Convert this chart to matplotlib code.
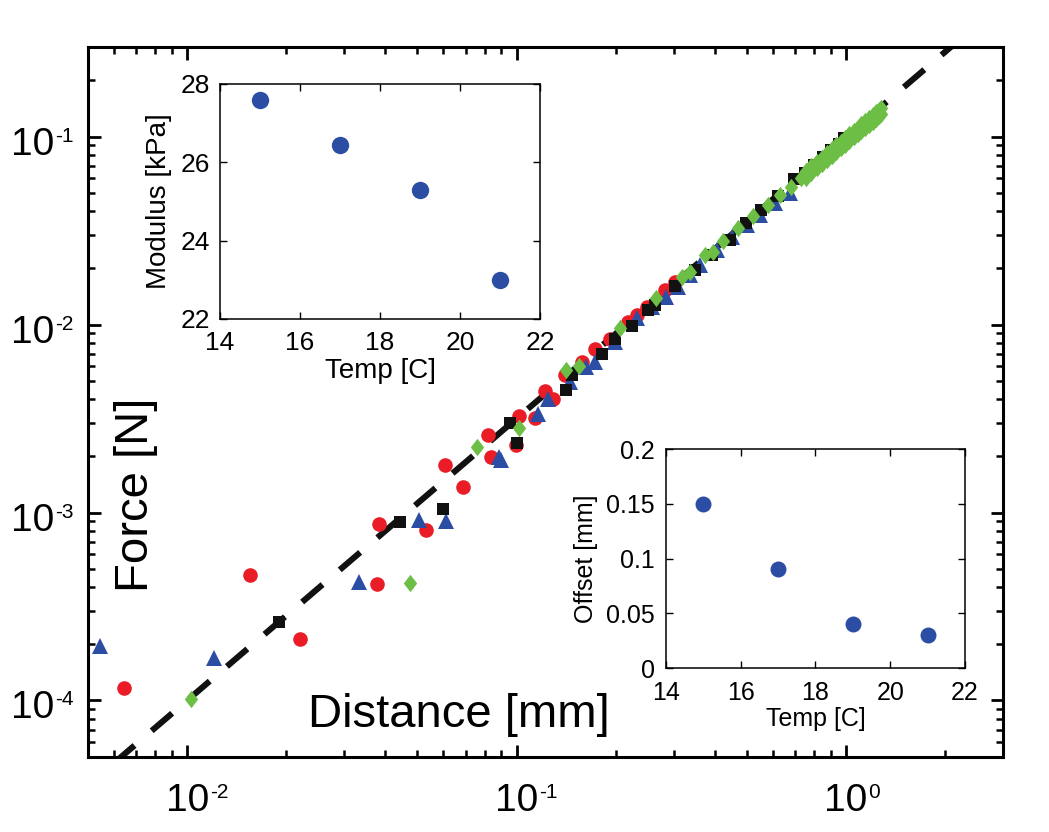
import numpy as np
import matplotlib
matplotlib.use('Agg')
import matplotlib.pyplot as plt
from matplotlib.ticker import LogLocator, NullFormatter

plt.rcParams['font.family'] = ['Liberation Sans', 'DejaVu Sans']

# Dados (Distance [mm] x Force [N])
red_d = [0.00644, 0.0155, 0.0220, 0.0376, 0.0382, 0.0531, 0.0605, 0.0686, 0.0818, 0.0838,
         0.0995, 0.1018, 0.114, 0.1216, 0.129, 0.1406, 0.158, 0.173, 0.192, 0.218,
         0.232, 0.249, 0.282, 0.302]
red_F = [1.16e-4, 4.65e-4, 2.13e-4, 4.15e-4, 8.73e-4, 8.06e-4, 1.80e-3, 1.37e-3, 2.57e-3, 1.98e-3,
         2.30e-3, 3.28e-3, 3.19e-3, 4.43e-3, 4.03e-3, 5.37e-3, 6.33e-3, 7.45e-3, 8.43e-3, 0.01035,
         0.0112, 0.01244, 0.0153, 0.0169]

blue_d = [0.00543, 0.01207, 0.0332, 0.0504, 0.0612, 0.0883, 0.0895, 0.116, 0.1245, 0.145,
          0.163, 0.173, 0.199, 0.232, 0.258, 0.285, 0.310, 0.336, 0.360, 0.405,
          0.450, 0.500, 0.547, 0.610, 0.675]
blue_F = [1.96e-4, 1.68e-4, 4.28e-4, 9.1e-4, 8.96e-4, 1.97e-3, 1.90e-3, 3.35e-3, 4.03e-3, 4.94e-3,
          5.94e-3, 6.32e-3, 8.1e-3, 0.0108, 0.0124, 0.0141, 0.0159, 0.0184, 0.0208, 0.0250,
          0.0294, 0.0338, 0.0383, 0.0442, 0.0500]

black_d = [0.0190, 0.0442, 0.0600, 0.0957, 0.1002, 0.141, 0.147, 0.182, 0.199, 0.224,
           0.250, 0.263, 0.302, 0.348, 0.391, 0.445, 0.499, 0.554, 0.622, 0.695,
           0.75, 0.80, 0.85, 0.90, 0.95, 0.99]
black_F = [2.6e-4, 8.9e-4, 1.04e-3, 2.98e-3, 2.33e-3, 4.47e-3, 5.37e-3, 7.0e-3, 8.43e-3, 9.8e-3,
           0.0119, 0.0127, 0.0160, 0.0195, 0.0234, 0.0282, 0.0346, 0.0407, 0.0484, 0.0594,
           0.0640, 0.0705, 0.0775, 0.0845, 0.0918, 0.0985]

green_d = [0.0103, 0.0474, 0.076, 0.1015, 0.141, 0.155, 0.206, 0.266, 0.317, 0.336,
           0.373, 0.396, 0.424, 0.471, 0.523, 0.580, 0.630, 0.683, 0.732]
green_F = [1.02e-4, 4.2e-4, 2.22e-3, 2.83e-3, 5.71e-3, 6.0e-3, 9.6e-3, 0.0138, 0.0180, 0.0191,
           0.0234, 0.0244, 0.0277, 0.0326, 0.0379, 0.0434, 0.0491, 0.0543, 0.0600]

# faixa verde contínua no fim da curva (bordas superior e inferior)
green_band_d = [0.755, 0.785, 0.815, 0.845, 0.875, 0.905, 0.935, 0.965, 0.995, 1.025,
                1.055, 1.085, 1.115, 1.145, 1.175, 1.205, 1.235, 1.26, 1.28]
green_band_hi = [0.0655, 0.0695, 0.0734, 0.0774, 0.0814, 0.0856, 0.0899, 0.0940, 0.0984, 0.1028,
                 0.1072, 0.1117, 0.1164, 0.1210, 0.1256, 0.1304, 0.1352, 0.1393, 0.1425]
green_band_lo = [0.0605, 0.0641, 0.0678, 0.0714, 0.0752, 0.0790, 0.0829, 0.0868, 0.0908, 0.0948,
                 0.0990, 0.1031, 0.1074, 0.1116, 0.1160, 0.1204, 0.1248, 0.1285, 0.1315]

# reta de ajuste (extremos)
fit_d = [0.006, 2.1]
fit_F = [4.65e-5, 0.304]

# insets
temp = [15, 17, 19, 21]
modulus = [27.6, 26.45, 25.3, 23.0]
offset = [0.15, 0.09, 0.04, 0.03]

x_major = [1e-2, 1e-1, 1e0]
x_exp = ['-2', '-1', '0']
y_major = [1e-4, 1e-3, 1e-2, 1e-1]
y_exp = ['-4', '-3', '-2', '-1']

RED = '#EA1D27'
BLUE = '#2B4DA3'
BLACK = '#111111'
GREEN = '#6CBE45'

# losango mais alto que largo, como no original
diamante = [(0, 1), (0.77, 0), (0, -1), (-0.77, 0), (0, 1)]

fig = plt.figure(figsize=(10.49, 8.32), dpi=100)
ax = fig.add_axes([0.0839, 0.0901, 0.8723, 0.8534])

ax.plot(fit_d, fit_F, color=BLACK, lw=4.4, dashes=(4.4, 3.7), dash_capstyle='butt')
ax.plot(red_d, red_F, 'o', color=RED, ms=10.5, mew=0, linestyle='none')
ax.plot(blue_d, blue_F, '^', color=BLUE, ms=11.5, mew=0, linestyle='none')
ax.plot(black_d, black_F, 's', color=BLACK, ms=8, mew=0, linestyle='none')
for gd, gF in [(green_d, green_F), (green_band_d, green_band_hi), (green_band_d, green_band_lo)]:
    ax.plot(gd, gF, marker=diamante, color=GREEN, ms=12.5, mew=0, linestyle='none')

ax.set_xscale('log')
ax.set_yscale('log')
ax.set_xlim(0.005, 3)
ax.set_ylim(5e-5, 0.3)
for axis in (ax.xaxis, ax.yaxis):
    axis.set_major_locator(LogLocator(base=10, numticks=10))
    axis.set_minor_locator(LogLocator(base=10, subs=np.arange(2, 10), numticks=20))
    axis.set_minor_formatter(NullFormatter())
ax.tick_params(which='both', direction='in', top=True, right=True,
               labelbottom=False, labelleft=False)
ax.tick_params(which='major', length=9, width=2)
ax.tick_params(which='minor', length=5, width=1.8)
for s in ax.spines.values():
    s.set_linewidth(2.2)

# rótulos dos ticks no estilo MATLAB (expoente pequeno alinhado ao topo)
for t, e in zip(x_major, x_exp):
    ax.annotate('10', xy=(t, 0), xycoords=('data', 'axes fraction'), xytext=(0, -18.7),
                textcoords='offset points', ha='center', va='top', fontsize=28)
    ax.annotate(e, xy=(t, 0), xycoords=('data', 'axes fraction'), xytext=(16.2, -18.7),
                textcoords='offset points', ha='left', va='top', fontsize=15)
for t, e in zip(y_major, y_exp):
    ax.annotate('10', xy=(0, t), xycoords=('axes fraction', 'data'), xytext=(-24.5, 7.2),
                textcoords='offset points', ha='right', va='top', fontsize=28)
    ax.annotate(e, xy=(0, t), xycoords=('axes fraction', 'data'), xytext=(-23.5, 7.2),
                textcoords='offset points', ha='left', va='top', fontsize=15)

ax.text(0.405, 0.042, 'Distance [mm]', transform=ax.transAxes, ha='center',
        va='baseline', fontsize=34)
ax.text(0.0656, 0.369, 'Force [N]', transform=ax.transAxes, rotation=90,
        rotation_mode='anchor', ha='center', va='baseline', fontsize=34)

# inset do módulo
ax1 = fig.add_axes([0.2097, 0.6166, 0.3051, 0.2825])
ax1.plot(temp, modulus, 'o', color=BLUE, ms=12.5, mew=0, linestyle='none')
ax1.set_xlim(14, 22)
ax1.set_ylim(22, 28)
ax1.set_xticks([14, 16, 18, 20, 22])
ax1.set_yticks([22, 24, 26, 28])
ax1.tick_params(direction='in', top=True, right=True, length=5, width=1, labelsize=19)
ax1.tick_params(axis='x', pad=9)
ax1.tick_params(axis='y', pad=7)
ax1.set_xlabel('Temp [C]', fontsize=20, labelpad=2)
ax1.set_ylabel('Modulus [kPa]', fontsize=20, labelpad=6)
for s in ax1.spines.values():
    s.set_linewidth(1.1)

# inset do offset
ax2 = fig.add_axes([0.6349, 0.1971, 0.2850, 0.2632])
ax2.plot(temp, offset, 'o', color=BLUE, ms=11.5, mew=0, linestyle='none')
ax2.set_xlim(14, 22)
ax2.set_ylim(0, 0.2)
ax2.set_xticks([14, 16, 18, 20, 22])
ax2.set_yticks([0, 0.05, 0.1, 0.15, 0.2])
ax2.set_yticklabels(['0', '0.05', '0.1', '0.15', '0.2'])
ax2.tick_params(direction='in', top=True, right=True, length=5, width=1, labelsize=18)
ax2.tick_params(axis='x', pad=9)
ax2.tick_params(axis='y', pad=8)
ax2.set_xlabel('Temp [C]', fontsize=18, labelpad=2)
ax2.set_ylabel('Offset [mm]', fontsize=18, labelpad=6)
for s in ax2.spines.values():
    s.set_linewidth(1.1)

fig.savefig('out.png', dpi=100)
